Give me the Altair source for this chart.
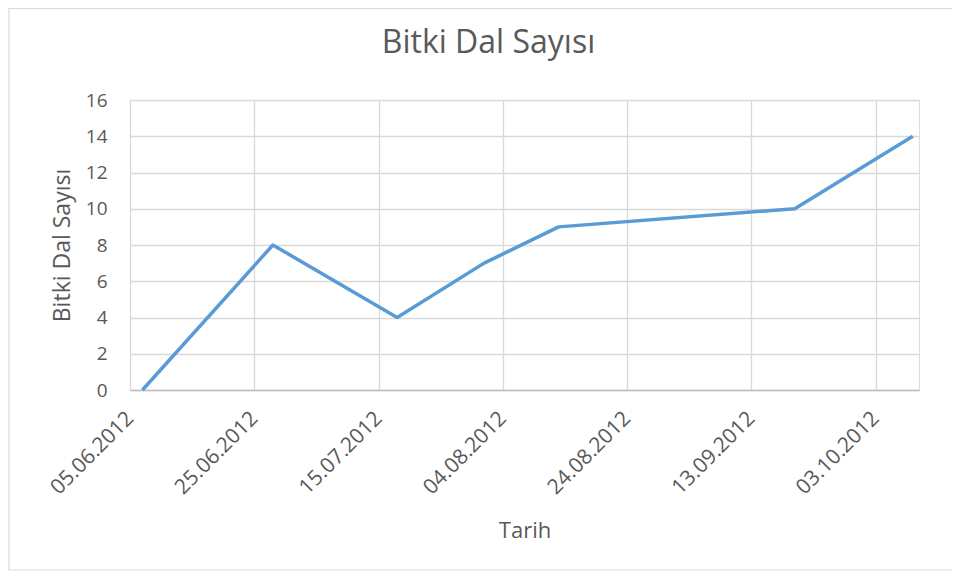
import altair as alt
import pandas as pd

# Data
dates = ["2012-06-07", "2012-06-28", "2012-07-18", "2012-08-01",
         "2012-08-13", "2012-09-20", "2012-10-09"]
counts = [0, 8, 4, 7, 9, 10, 14]

tick_dates = [(2012, 6, 5), (2012, 6, 25), (2012, 7, 15), (2012, 8, 4),
              (2012, 8, 24), (2012, 9, 13), (2012, 10, 3)]
x_domain = [(2012, 6, 5), (2012, 10, 10)]
y_ticks = [0, 2, 4, 6, 8, 10, 12, 14, 16]

title_text = "Bitki Dal Sayısı"
x_title = "Tarih"
y_title = "Bitki Dal Sayısı"

FONT = "Open Sans"
TXT = "#595959"

df = pd.DataFrame({"Tarih": [d + "T00:00:00" for d in dates], "Dal": counts})


def dt(t):
    return alt.DateTime(year=t[0], month=t[1], date=t[2])


line = alt.Chart(df).mark_line(
    color="#5b9bd5", strokeWidth=3.5, strokeJoin="round", strokeCap="butt"
).encode(
    x=alt.X(
        "Tarih:T",
        scale=alt.Scale(domain=[dt(t) for t in x_domain], nice=False),
        axis=alt.Axis(
            values=[dt(t) for t in tick_dates],
            format="%d.%m.%Y",
            labelAngle=-45,
            labelAlign="right",
            labelBaseline="middle",
            labelPadding=25,
            labelFontSize=21,
            labelFont=FONT,
            labelColor=TXT,
            ticks=False,
            grid=True,
            gridColor="#d9d9d9",
            gridWidth=1.3,
            domainColor="#bfbfbf",
            domainWidth=1.5,
            title=x_title,
            titleFont=FONT,
            titleFontSize=22,
            titleFontWeight="normal",
            titleColor=TXT,
            titleX=394.5,
            titleY=147,
            titleAlign="center",
            titleBaseline="alphabetic",
            labelOverlap=False,
        ),
    ),
    y=alt.Y(
        "Dal:Q",
        scale=alt.Scale(domain=[0, 16], nice=False),
        axis=alt.Axis(
            values=y_ticks,
            labelFontSize=19,
            labelFont=FONT,
            labelColor=TXT,
            labelPadding=23,
            ticks=False,
            domain=False,
            grid=True,
            gridColor="#d9d9d9",
            gridWidth=1.3,
            title=y_title,
            titleFont=FONT,
            titleFontSize=23,
            titleFontWeight="normal",
            titleColor=TXT,
            titleX=-68,
            titleY=145,
            titleAngle=-90,
            titleAlign="center",
            titleBaseline="middle",
        ),
    ),
)

frame = alt.Chart(pd.DataFrame({"a": [0]})).mark_rect(
    fillOpacity=0, stroke="#d9d9d9", strokeWidth=1.2
).encode(
    x=alt.value(-121), x2=alt.value(860), y=alt.value(-91.5), y2=alt.value(470)
)

chart = alt.layer(frame, line).properties(
    width=789,
    height=290,
    padding={"left": 122, "top": 92, "right": 33, "bottom": 181},
    autosize=alt.AutoSizeParams(type="none"),
    title=alt.TitleParams(
        title_text,
        font=FONT,
        fontSize=32,
        fontWeight="normal",
        color=TXT,
        anchor="middle",
        dx=-36,
        baseline="alphabetic",
        offset=-77,
    ),
).configure_view(stroke=None).configure(background="white")

chart.save("out.html", embed_options={"renderer": "svg", "actions": False})
